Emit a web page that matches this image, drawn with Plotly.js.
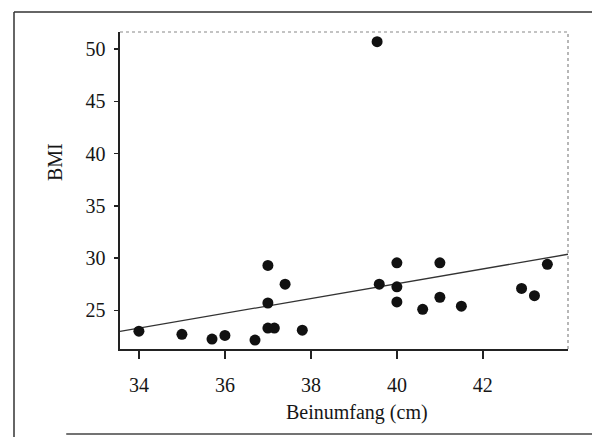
<!DOCTYPE html>
<html>
<head>
<meta charset="utf-8">
<script src="https://cdn.plot.ly/plotly-3.0.1.min.js"></script>
<style>html,body{margin:0;padding:0;background:#fff;}#chart{width:596px;height:437px;}</style>
</head>
<body>
<div id="chart"></div>
<script>
// Beinumfang (cm) vs BMI
const beinumfang = [34.0, 35.0, 35.7, 36.0, 36.7, 37.0, 37.4, 37.0, 37.0, 37.15, 37.8, 39.54, 39.59, 40.0, 40.0, 40.0, 40.6, 41.0, 41.0, 41.5, 42.9, 43.2, 43.5];
const bmi        = [23.0, 22.7, 22.25, 22.6, 22.15, 29.3, 27.5, 25.7, 23.3, 23.3, 23.1, 50.7, 27.5, 29.55, 27.25, 25.8, 25.1, 29.55, 26.25, 25.4, 27.1, 26.4, 29.4];
const xTicks = [34, 36, 38, 40, 42];
const yTicks = [25, 30, 35, 40, 45, 50];
const xRange = [33.56, 43.98];
const yRange = [21.3, 51.63];
const xTitle = 'Beinumfang (cm)';
const yTitle = 'BMI';

// least-squares fit line
const n = beinumfang.length;
const mx = beinumfang.reduce((a,b)=>a+b,0)/n;
const my = bmi.reduce((a,b)=>a+b,0)/n;
let sxy=0, sxx=0;
for (let i=0;i<n;i++){ sxy += (beinumfang[i]-mx)*(bmi[i]-my); sxx += (beinumfang[i]-mx)**2; }
const slope = sxy/sxx, icpt = my - slope*mx;
const fitX = [xRange[0], xRange[1]];
const fitY = fitX.map(x => icpt + slope*x);

const serif = "Liberation Serif, Times New Roman, serif";
const ink = '#161616';
const traces = [
  {x: fitX, y: fitY, mode: 'lines', line: {color: '#333', width: 1.3}, hoverinfo: 'skip', showlegend: false},
  {x: beinumfang, y: bmi, mode: 'markers', marker: {color: '#111', size: 11}, showlegend: false}
];
const layout = {
  width: 596, height: 437,
  margin: {l: 120, r: 28, t: 32, b: 88},
  paper_bgcolor: '#fff', plot_bgcolor: '#fff',
  font: {family: serif, color: ink, size: 20},
  showlegend: false,
  xaxis: {
    range: xRange, tickvals: xTicks, ticktext: xTicks.map(String),
    showgrid: false, zeroline: false, showline: true, linecolor: '#222', linewidth: 1.6,
    ticks: 'outside', ticklen: 8, tickwidth: 1.5, tickcolor: '#222', ticklabelstandoff: 9,
    tickfont: {family: serif, size: 20, color: ink}
  },
  yaxis: {
    range: yRange, tickvals: yTicks, ticktext: yTicks.map(String),
    showgrid: false, zeroline: false, showline: true, linecolor: '#222', linewidth: 1.6,
    ticks: 'outside', ticklen: 4, tickwidth: 1.5, tickcolor: '#222', ticklabelstandoff: 5,
    tickfont: {family: serif, size: 20, color: ink}
  },
  annotations: [
    {text: xTitle, xref: 'paper', yref: 'paper', x: 0.529, y: -0.199, xanchor: 'center', yanchor: 'middle', showarrow: false, font: {family: serif, size: 20, color: ink}},
    {text: yTitle, xref: 'paper', yref: 'paper', x: -0.145, y: 0.59, xanchor: 'center', yanchor: 'middle', textangle: -90, showarrow: false, font: {family: serif, size: 20, color: ink}}
  ],
  shapes: [
    {type: 'line', xref: 'paper', yref: 'paper', x0: 0, x1: 1, y0: 1, y1: 1, line: {color: '#888', width: 1.2, dash: 'dot'}},
    {type: 'line', xref: 'paper', yref: 'paper', x0: 1, x1: 1, y0: 0, y1: 1, line: {color: '#888', width: 1.2, dash: 'dot'}},
    {type: 'line', xref: 'paper', yref: 'paper', x0: -0.2366, x1: 1.0536, y0: 1.063, y1: 1.063, line: {color: '#333', width: 1.5}},
    {type: 'line', xref: 'paper', yref: 'paper', x0: -0.2366, x1: -0.2366, y0: -0.3, y1: 1.063, line: {color: '#333', width: 1.5}},
    {type: 'line', xref: 'paper', yref: 'paper', x0: -0.12, x1: 1.0536, y0: -0.268, y1: -0.268, line: {color: '#444', width: 1.5}}
  ]
};
Plotly.newPlot('chart', traces, layout, {displayModeBar: false, staticPlot: true});
</script>
</body>
</html>
